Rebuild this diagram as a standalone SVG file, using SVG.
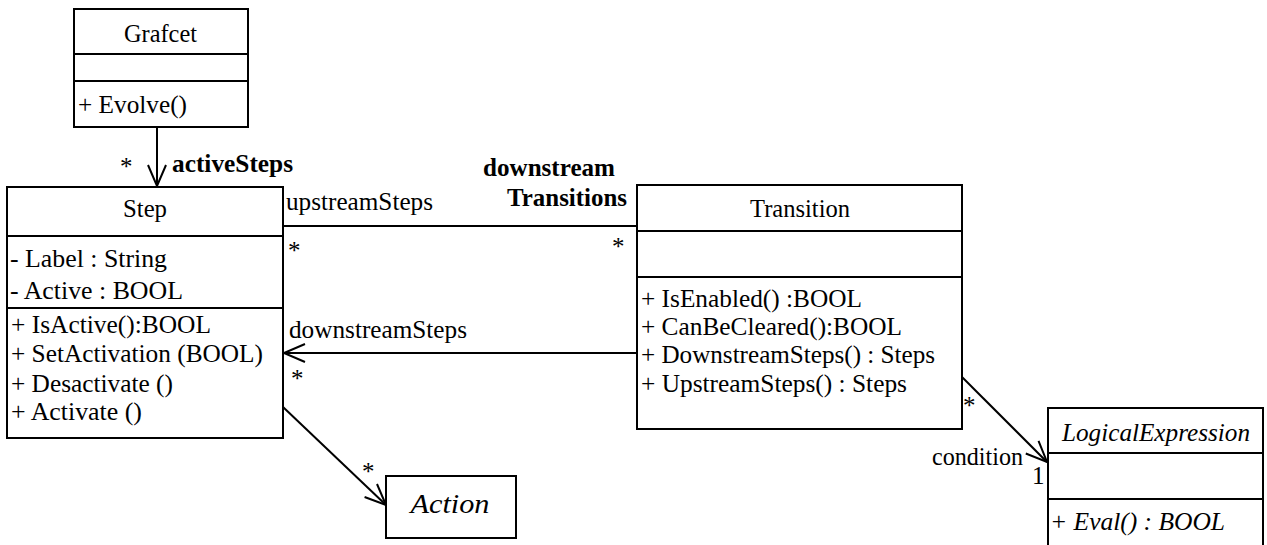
<svg xmlns="http://www.w3.org/2000/svg" width="1267" height="545" viewBox="0 0 1267 545">
<style>
.box{fill:#fff;stroke:#000;stroke-width:2}
.sep{stroke:#000;stroke-width:2}
text{font-family:"Liberation Serif",serif;font-size:25px;fill:#000}
.b{font-weight:bold}
.i{font-style:italic}
.c{text-anchor:middle}
.conn{stroke:#000;stroke-width:2;fill:none}
</style>
<defs>
<marker id="open" markerUnits="userSpaceOnUse" markerWidth="30" markerHeight="30" viewBox="-25 -15 30 30" refX="0" refY="0" orient="auto" overflow="visible">
<path d="M-21,-9 L0,0 L-21,9" fill="none" stroke="#000" stroke-width="2"/>
</marker>
</defs>
<g id="connectors">
<line class="conn" x1="157" y1="127" x2="157" y2="186" marker-end="url(#open)"/>
<line class="conn" x1="283" y1="226" x2="637" y2="226"/>
<line class="conn" x1="637" y1="353" x2="284" y2="353" marker-end="url(#open)"/>
<line class="conn" x1="283" y1="407" x2="386" y2="505" marker-end="url(#open)"/>
<line class="conn" x1="962" y1="377" x2="1047" y2="462" marker-end="url(#open)"/>
<text x="120" y="175">*</text>
<text class="b" x="172" y="172" textLength="121" lengthAdjust="spacingAndGlyphs">activeSteps</text>
<text x="286" y="210" textLength="147" lengthAdjust="spacingAndGlyphs">upstreamSteps</text>
<text x="288" y="259">*</text>
<text class="b" x="483" y="176" textLength="132" lengthAdjust="spacingAndGlyphs">downstream</text>
<text class="b" x="507" y="206" textLength="120" lengthAdjust="spacingAndGlyphs">Transitions</text>
<text x="612" y="255">*</text>
<text x="289" y="338" textLength="178" lengthAdjust="spacingAndGlyphs">downstreamSteps</text>
<text x="291" y="387">*</text>
<text x="362" y="480">*</text>
<text x="963" y="414">*</text>
<text x="932" y="465" textLength="91" lengthAdjust="spacingAndGlyphs">condition</text>
<text x="1032" y="484">1</text>
</g>
<g id="Grafcet">
<rect class="box" x="74" y="9" width="174" height="118"/>
<line class="sep" x1="74" y1="54" x2="248" y2="54"/>
<line class="sep" x1="74" y1="81" x2="248" y2="81"/>
<text class="c" x="160.5" y="42" textLength="73" lengthAdjust="spacingAndGlyphs">Grafcet</text>
<text x="78" y="113" textLength="109" lengthAdjust="spacingAndGlyphs">+ Evolve()</text>
</g>
<g id="Step">
<rect class="box" x="7" y="187" width="276" height="251"/>
<line class="sep" x1="7" y1="236" x2="283" y2="236"/>
<line class="sep" x1="7" y1="308" x2="283" y2="308"/>
<text class="c" x="145" y="217" textLength="44" lengthAdjust="spacingAndGlyphs">Step</text>
<text x="10" y="267" textLength="157" lengthAdjust="spacingAndGlyphs">- Label : String</text>
<text x="10" y="299" textLength="173" lengthAdjust="spacingAndGlyphs">- Active : BOOL</text>
<text x="11" y="333" textLength="200" lengthAdjust="spacingAndGlyphs">+ IsActive():BOOL</text>
<text x="11" y="362" textLength="252" lengthAdjust="spacingAndGlyphs">+ SetActivation (BOOL)</text>
<text x="11" y="392" textLength="162" lengthAdjust="spacingAndGlyphs">+ Desactivate ()</text>
<text x="11" y="420" textLength="131" lengthAdjust="spacingAndGlyphs">+ Activate ()</text>
</g>
<g id="Transition">
<rect class="box" x="637" y="185" width="325" height="244"/>
<line class="sep" x1="637" y1="231" x2="962" y2="231"/>
<line class="sep" x1="637" y1="277" x2="962" y2="277"/>
<text class="c" x="800" y="217" textLength="100" lengthAdjust="spacingAndGlyphs">Transition</text>
<text x="641" y="307" textLength="221" lengthAdjust="spacingAndGlyphs">+ IsEnabled() :BOOL</text>
<text x="641" y="335" textLength="261" lengthAdjust="spacingAndGlyphs">+ CanBeCleared():BOOL</text>
<text x="641" y="363" textLength="294" lengthAdjust="spacingAndGlyphs">+ DownstreamSteps() : Steps</text>
<text x="641" y="392" textLength="266" lengthAdjust="spacingAndGlyphs">+ UpstreamSteps() : Steps</text>
</g>
<g id="Action">
<rect class="box" x="386" y="476" width="130" height="62"/>
<text class="i c" x="450" y="513" style="font-size:28px" textLength="79" lengthAdjust="spacingAndGlyphs">Action</text>
</g>
<g id="LogicalExpression">
<rect class="box" x="1048" y="408" width="215" height="150"/>
<line class="sep" x1="1048" y1="453" x2="1263" y2="453"/>
<line class="sep" x1="1048" y1="499" x2="1263" y2="499"/>
<text class="i c" x="1156" y="441" textLength="188" lengthAdjust="spacingAndGlyphs">LogicalExpression</text>
<text class="i" x="1050" y="530" textLength="175" lengthAdjust="spacingAndGlyphs">+ Eval() : BOOL</text>
</g>
</svg>
